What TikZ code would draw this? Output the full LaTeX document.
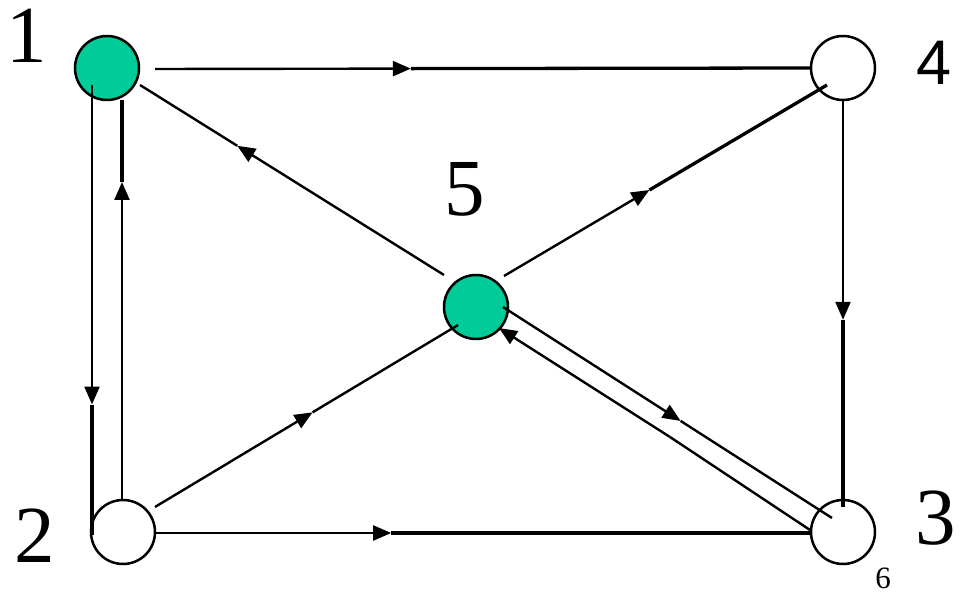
\documentclass[tikz,border=0pt]{standalone}
\usepackage{fontspec}
\setmainfont{Liberation Serif}
\newfontfamily\arialf{Liberation Sans}
\usetikzlibrary{arrows.meta,calc}
\definecolor{nodegreen}{RGB}{0,204,153}
\newcommand\myedge[4]{%
  \draw[lnthin,-{Triangle[length=18pt,width=15pt]}] (#1) -- ($(#1)!#3!(#2)$);
  \draw[#4] ($(#1)!#3!(#2)$) -- (#2);}
\begin{document}
\begin{tikzpicture}[x=1pt,y=-1pt,
  vert/.style={circle,draw=black,line width=2.5pt,minimum size=64pt,inner sep=0pt},
  lnthin/.style={line width=2.4pt},
  lnthick/.style={line width=3.3pt},
  lbl/.style={inner sep=0pt,font=\fontsize{81}{81}\selectfont}]
\useasboundingbox (0,0) rectangle (962,593);
% vertices
\node[vert,fill=nodegreen] (n1) at (107,68) {};
\node[vert,fill=white] (n2) at (123,532) {};
\node[vert,fill=white] (n3) at (843,532) {};
\node[vert,fill=white] (n4) at (843,68) {};
\node[vert,fill=nodegreen] (n5) at (476,307) {};
% labels
\node[lbl] (l1) at (27,36) {1};
\node[lbl] (l2) at (35,536) {2};
\node[lbl] (l3) at (936,518) {3};
\node[inner sep=0pt,font=\arialf\fontsize{63}{63}\selectfont] (l4) at (934,63) {4};
\node[lbl] (l5) at (465,189) {5};
\node[inner sep=0pt,font=\fontsize{31}{31}\selectfont] (l6) at (883,578) {6};
% endpoints
\coordinate (a14) at (155,69);   \coordinate (b14) at (811,68);
\coordinate (a23) at (155,533);  \coordinate (b23) at (811,533);
\coordinate (a43) at (843,100);  \coordinate (b43) at (843,507);
\coordinate (a12) at (92,85);    \coordinate (b12) at (92,535);
\coordinate (a21) at (122,500);  \coordinate (b21) at (122,100);
\coordinate (a51) at (444,275);  \coordinate (b51) at (140,85);
\coordinate (a54) at (504,276);  \coordinate (b54) at (827,85);
\coordinate (a25) at (155,507);  \coordinate (b25) at (458,325);
\coordinate (a53) at (503,307);  \coordinate (b53) at (832,518);
\coordinate (a35) at (810,530);  \coordinate (m35) at (670,437);  \coordinate (b35) at (499,328);
% edges
\myedge{a14}{b14}{0.39}{lnthick}
\myedge{a23}{b23}{0.36}{lnthick}
\myedge{a43}{b43}{0.54}{lnthick}
\myedge{a12}{b12}{0.71}{lnthick}
\myedge{a21}{b21}{0.795}{lnthick}
\myedge{a51}{b51}{0.68}{lnthin}
\myedge{a54}{b54}{0.45}{lnthick}
\myedge{a25}{b25}{0.52}{lnthin}
\myedge{a53}{b53}{0.54}{lnthin}
\draw[lnthin] (a35) -- (m35);
\draw[lnthin,-{Triangle[length=18pt,width=15pt]}] (m35) -- (b35);
\end{tikzpicture}
\end{document}
